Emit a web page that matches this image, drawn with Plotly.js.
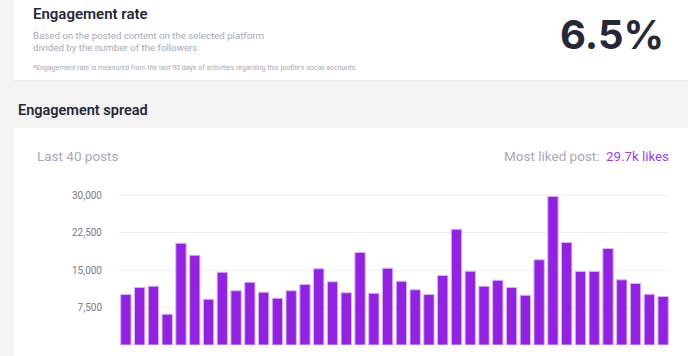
<!DOCTYPE html>
<html>
<head>
<meta charset="utf-8">
<script src="https://cdn.plot.ly/plotly-3.0.1.min.js"></script>
<style>
html,body{margin:0;padding:0;background:#f3f3f4;}
#chart{width:688px;height:356px;}
</style>
</head>
<body>
<div id="chart"></div>
<script>
// ---- data ----
const postLabels = Array.from({length: 40}, (_, i) => 'Post ' + (i + 1));
const likes = [
  10100, 11500, 11750, 6150, 20350, 17950, 9150, 14550, 10850, 12550,
  10550, 9350, 10850, 12100, 15250, 12650, 10450, 18500, 10350, 15350,
  12750, 11050, 10100, 13900, 23150, 14750, 11750, 12950, 11500, 9950,
  17050, 29700, 20500, 14700, 14700, 19300, 13050, 12300, 10150, 9700
];
const yTicks = [7500, 15000, 22500, 30000];
const yTickText = ['7,500', '15,000', '22,500', '30,000'];
const rateValue = '6.5%';
const mostLiked = '29.7k likes';

// ---- layout helpers (pixel -> paper) ----
const W = 688, H = 356;
const M = {l: 119, r: 18, t: 190, b: 11};
const PW = W - M.l - M.r, PH = H - M.t - M.b;
const px = x => (x - M.l) / PW;
const py = y => (H - M.b - y) / PH;

const gray = '#a8a8b8';
const dark = '#262838';
const FONT = 'Roboto, "Noto Sans", sans-serif';

function ann(text, x, y, opts) {
  return Object.assign({
    text: text, xref: 'paper', yref: 'paper', x: px(x), y: py(y),
    xanchor: 'left', yanchor: 'middle', showarrow: false,
    font: {family: FONT, size: 10, color: gray}
  }, opts || {});
}

const data = [{
  type: 'bar',
  x: postLabels,
  y: likes,
  marker: {color: '#9122e0', line: {color: '#dcb3f7', width: 1}},
  hoverinfo: 'y'
}];

const layout = {
  width: W, height: H,
  margin: M,
  paper_bgcolor: '#f3f3f4',
  plot_bgcolor: 'rgba(0,0,0,0)',
  showlegend: false,
  bargap: 0.25,
  xaxis: {visible: false, type: 'category'},
  yaxis: {
    range: [0, 31000],
    tickvals: yTicks, ticktext: yTickText,
    showgrid: true, gridcolor: '#f1f1f2', gridwidth: 1,
    zeroline: false, showline: false,
    ticks: 'outside', ticklen: 14, tickcolor: 'rgba(0,0,0,0)',
    tickfont: {family: FONT, size: 10, color: '#7a7a82'}
  },
  shapes: [
    {type: 'rect', xref: 'paper', yref: 'paper', layer: 'below',
     x0: px(14), x1: px(700), y0: py(81.5), y1: py(-10),
     fillcolor: '#ececef', line: {width: 0}},
    {type: 'rect', xref: 'paper', yref: 'paper', layer: 'below',
     x0: px(14), x1: px(700), y0: py(80), y1: py(-10),
     fillcolor: '#ffffff', line: {width: 0}},
    {type: 'rect', xref: 'paper', yref: 'paper', layer: 'below',
     x0: px(14), x1: px(700), y0: py(370), y1: py(128),
     fillcolor: '#ffffff', line: {width: 0}}
  ],
  annotations: [
    ann('Engagement rate', 31, 14, {font: {family: FONT, size: 15, color: dark, weight: 600}}),
    ann('Based on the posted content on the selected platform', 31, 36, {font: {family: FONT, size: 9.7, color: gray}}),
    ann('divided by the number of the followers', 31, 47, {font: {family: FONT, size: 9.7, color: gray}}),
    ann('*Engagement-rate is measured from the last 90 days of activities regarding this profile\'s social accounts.', 31, 68, {font: {family: FONT, size: 7, color: gray}}),
    ann(rateValue, 666, 34, {xanchor: 'right', font: {family: 'Inter, Roboto, sans-serif', size: 40, color: dark, weight: 700}}),
    ann('Engagement spread', 16, 111, {font: {family: FONT, size: 14.5, color: dark, weight: 600}}),
    ann('Last 40 posts', 35, 156, {font: {family: FONT, size: 13.5, color: gray}}),
    ann('Most liked post:', 602, 156, {xanchor: 'right', font: {family: FONT, size: 13.5, color: gray}}),
    ann(mostLiked, 671, 156, {xanchor: 'right', font: {family: FONT, size: 13.3, color: '#9a3de6'}})
  ]
};

Plotly.newPlot('chart', data, layout, {displayModeBar: false, staticPlot: true});
</script>
</body>
</html>
